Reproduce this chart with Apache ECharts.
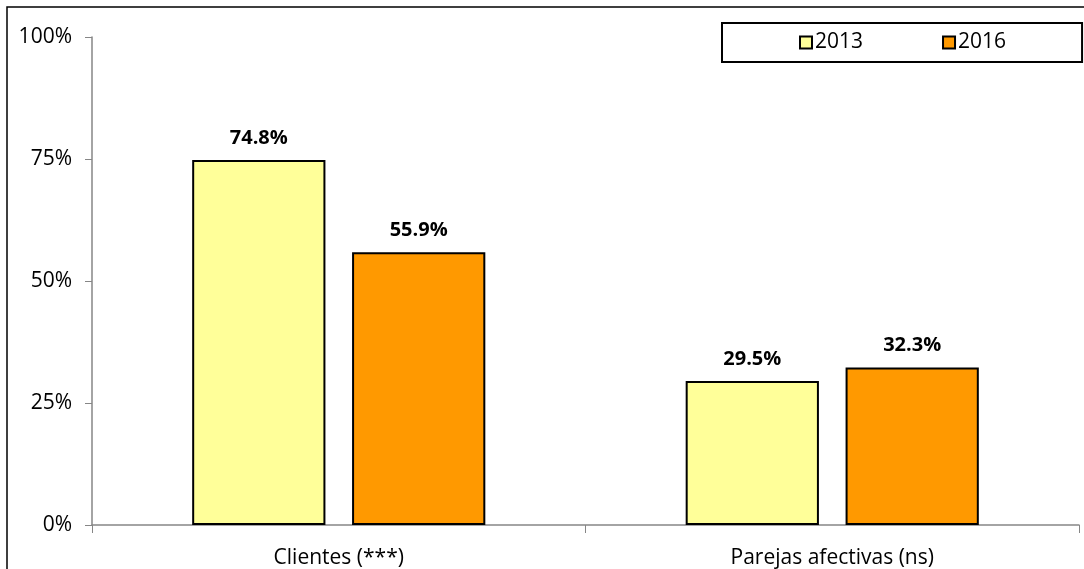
<!DOCTYPE html>
<html>
<head>
<meta charset="utf-8">
<script src="https://cdn.jsdelivr.net/npm/echarts@6/dist/echarts.min.js"></script>
<style>
  html, body { margin: 0; padding: 0; background: #fff; }
  #main { width: 1084px; height: 569px; }
</style>
</head>
<body>
<div id="main"></div>
<script>
var categories = ['Clientes (***)', 'Parejas afectivas (ns)'];
var years = ['2013', '2016'];
var values2013 = [74.8, 29.5];
var values2016 = [55.9, 32.3];
var yTicks = [0, 25, 50, 75, 100];

var font = '"Open Sans", sans-serif';
var chart = echarts.init(document.getElementById('main'));

var labelStyle = {
    show: true,
    position: 'top',
    distance: 12,
    fontFamily: font,
    fontSize: 20,
    fontWeight: 'bold',
    color: '#000',
    formatter: function (p) { return p.value.toFixed(1) + '%'; }
};

var option = {
    animation: false,
    graphic: [{
        type: 'rect',
        shape: { x: 7, y: 7, width: 1100, height: 600 },
        style: { fill: 'none', stroke: '#000', lineWidth: 1.5 },
        silent: true
    }],
    legend: {
        data: years,
        left: 722,
        top: 23,
        padding: [9, 76, 9, 77],
        itemGap: 79,
        itemWidth: 12,
        itemHeight: 12,
        borderColor: '#000',
        borderWidth: 2,
        textStyle: { fontFamily: font, fontSize: 21, color: '#000', padding: [0, 0, 0, -2] },
        icon: 'rect'
    },
    grid: {
        left: 92,
        right: 5,
        top: 37,
        bottom: 43
    },
    xAxis: {
        type: 'category',
        data: categories,
        axisLine: { lineStyle: { color: '#868686', width: 1.5 } },
        axisTick: { show: true, length: 8, lineStyle: { color: '#868686' } },
        axisLabel: { fontFamily: font, fontSize: 21, color: '#000', margin: 23 }
    },
    yAxis: {
        type: 'value',
        min: 0,
        max: 100,
        interval: 25,
        splitLine: { show: false },
        axisLine: { show: true, lineStyle: { color: '#868686', width: 1.5 } },
        axisTick: { show: true, length: 7, lineStyle: { color: '#868686' } },
        axisLabel: {
            fontFamily: font, fontSize: 21, color: '#000', margin: 20,
            formatter: function (v) { return yTicks.indexOf(v) >= 0 ? v + '%' : ''; }
        }
    },
    series: [
        {
            name: '2013',
            type: 'bar',
            data: values2013,
            barGap: '20%',
            barCategoryGap: '40.6%',
            itemStyle: { color: '#FFFF99', borderColor: '#000', borderWidth: 2 },
            label: labelStyle
        },
        {
            name: '2016',
            type: 'bar',
            data: values2016,
            itemStyle: { color: '#FF9900', borderColor: '#000', borderWidth: 2 },
            label: labelStyle
        }
    ]
};
chart.setOption(option);
</script>
</body>
</html>
